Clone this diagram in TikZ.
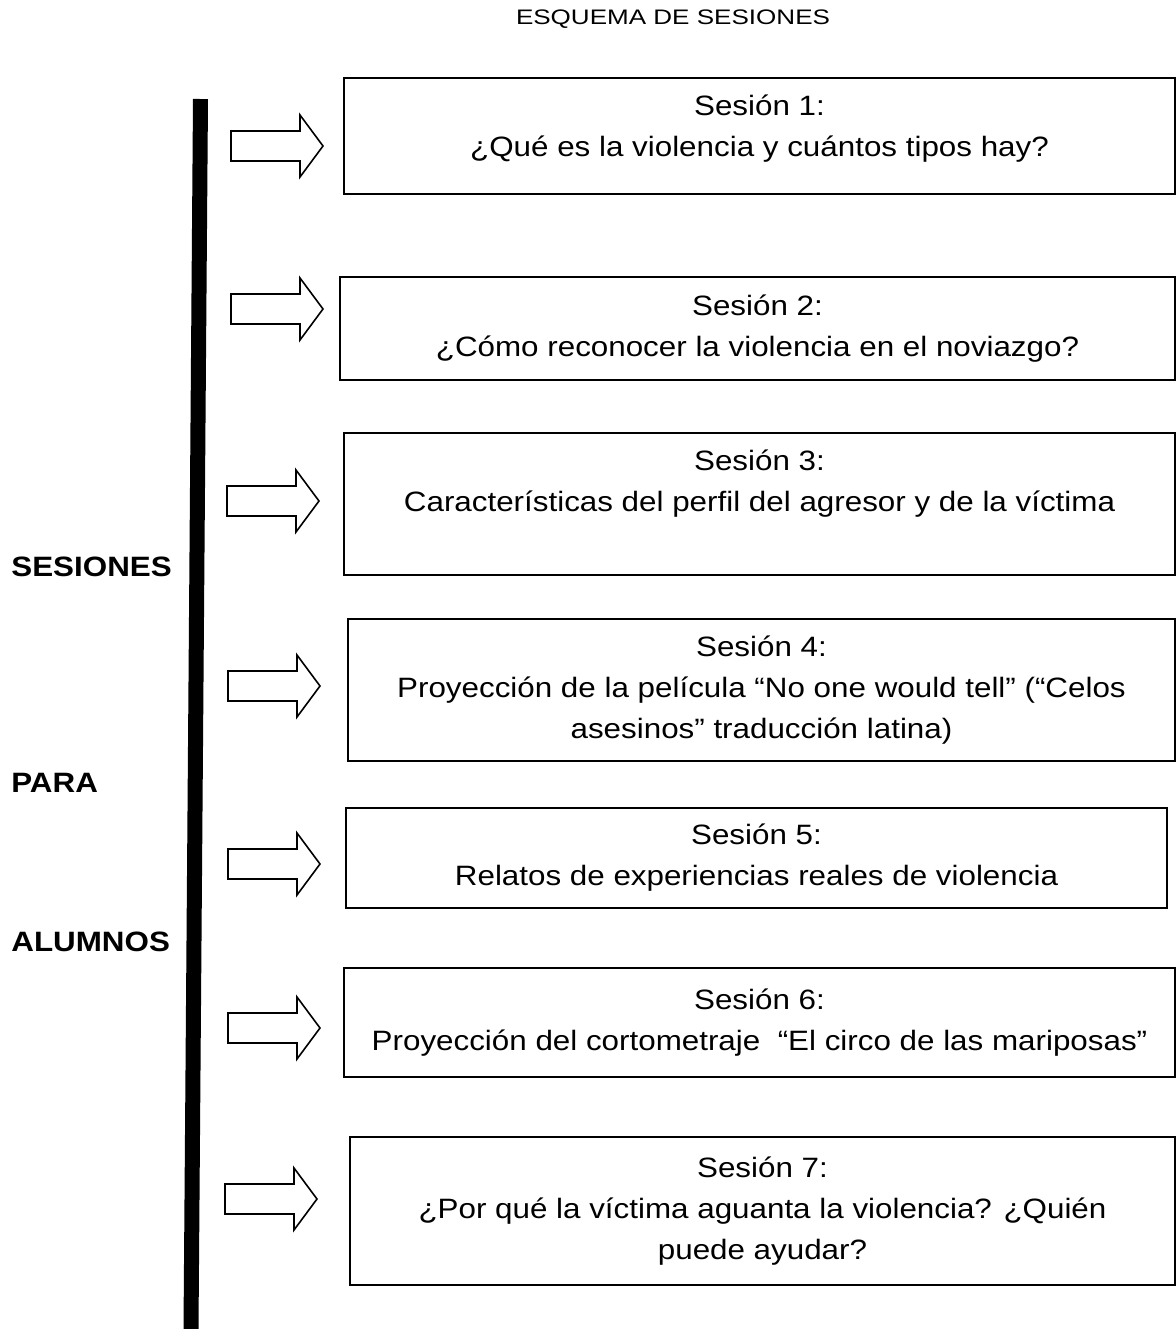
\documentclass[tikz,border=0pt]{standalone}
\usepackage{fontspec}
\setmainfont{Liberation Sans}[FakeStretch=1.12]
\newfontfamily\titulofont{Liberation Sans}[FakeStretch=1.24]

\begin{document}
\begin{tikzpicture}[x=0.5pt,y=-0.5pt,
  caja/.style={draw, line width=0.9pt, align=center, inner sep=0pt,
    font=\fontsize{14}{20.5}\selectfont},
  lado/.style={anchor=west, inner sep=0pt, font=\fontsize{14}{16}\selectfont\bfseries},
  flecha/.pic={\draw[line width=0.8pt, fill=white] (-92,-15) -- (-23,-15) -- (-23,-31)
    -- (0,0) -- (-23,31) -- (-23,15) -- (-92,15) -- cycle;}]
  \useasboundingbox (0,0) rectangle (1176,1329);

  \node[inner sep=0pt, font=\titulofont\fontsize{10.5}{12}\selectfont] (titulo) at (673,19) {ESQUEMA DE SESIONES};

  % barra vertical
  \draw[line width=7.5pt] (200.5,99) -- (191,1329);

  \node[lado] (sesiones) at (11,567) {SESIONES};
  \node[lado] (para)     at (11,783) {PARA};
  \node[lado] (alumnos)  at (11,942) {ALUMNOS};

  % sesiones
  \node[caja, minimum width=415.5pt, minimum height=58pt, text depth=9.9pt] (s1) at (759.5,136)
    {Sesión 1:\\¿Qué es la violencia y cuántos tipos hay?};
  \node[caja, minimum width=417.5pt, minimum height=51.5pt] (s2) at (757.5,328.5)
    {Sesión 2:\\¿Cómo reconocer la violencia en el noviazgo?};
  \node[caja, minimum width=415.5pt, minimum height=71pt, text depth=22.9pt] (s3) at (759.5,504)
    {Sesión 3:\\Características del perfil del agresor y de la víctima};
  \node[caja, minimum width=413.5pt, minimum height=71pt] (s4) at (761.5,690)
    {Sesión 4:\\Proyección de la película “No one would tell” (“Celos\\asesinos” traducción latina)};
  \node[caja, minimum width=410.5pt, minimum height=50pt] (s5) at (756.5,858)
    {Sesión 5:\\Relatos de experiencias reales de violencia};
  \node[caja, minimum width=415.5pt, minimum height=54.5pt] (s6) at (759.5,1022.5)
    {Sesión 6:\\Proyección del cortometraje~ “El circo de las mariposas”};
  \node[caja, minimum width=412.5pt, minimum height=74pt] (s7) at (762.5,1211)
    {Sesión 7:\\¿Por qué la víctima aguanta la violencia? ¿Quién\\puede ayudar?};

  % flechas
  \pic (f1) at (323,146) {flecha};
  \pic (f2) at (323,309) {flecha};
  \pic (f3) at (319,501) {flecha};
  \pic (f4) at (320,686) {flecha};
  \pic (f5) at (320,864) {flecha};
  \pic (f6) at (320,1028) {flecha};
  \pic (f7) at (317,1199) {flecha};
\end{tikzpicture}
\end{document}
